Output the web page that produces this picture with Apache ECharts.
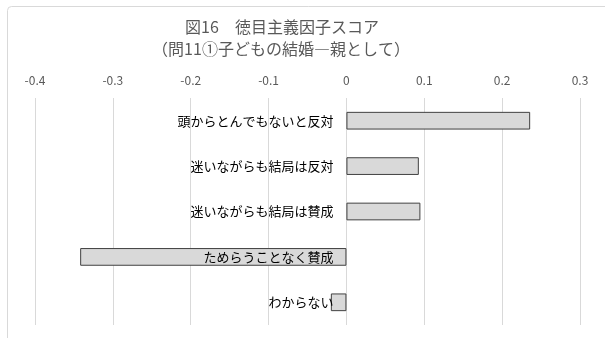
<!DOCTYPE html>
<html><head><meta charset="utf-8">
<script src="https://cdn.jsdelivr.net/npm/echarts@6/dist/echarts.min.js"></script>
<style>html,body{margin:0;padding:0;background:#fff}#c{width:605px;height:338px}</style>
</head><body><div id="c"></div>
<script>
const titleLine1 = "図16　徳目主義因子スコア";
const titleLine2 = "（問11①子どもの結婚―親として）";
const categories = ["頭からとんでもないと反対", "迷いながらも結局は反対", "迷いながらも結局は賛成", "ためらうことなく賛成", "わからない"];
const values = [0.236, 0.093, 0.095, -0.342, -0.020];
const xMin = -0.4, xMax = 0.3, xStep = 0.1;

const FONT = '"Noto Sans CJK JP", "Noto Sans", sans-serif';
const W = 605, gridLeft = 35, gridRight = 25;
const plotW = W - gridLeft - gridRight;
const zeroOffset = -plotW * (0 - xMin) / (xMax - xMin);
const chart = echarts.init(document.getElementById('c'), null, {renderer: 'canvas'});
const titleStyle = {fontFamily: FONT, fontSize: 16, fill: '#595959', textAlign: 'center', textVerticalAlign: 'middle'};
chart.setOption({
  animation: false,
  backgroundColor: '#fff',
  textStyle: {fontFamily: FONT},
  graphic: [
    {type: 'rect', left: 5, top: 4, shape: {width: 700, height: 400, r: 4}, style: {fill: 'none', stroke: '#d9d9d9', lineWidth: 1}, silent: true},
    {type: 'text', x: 282, y: 27, style: Object.assign({text: titleLine1}, titleStyle), silent: true},
    {type: 'text', x: 281, y: 49, style: Object.assign({text: titleLine2}, titleStyle), silent: true}
  ],
  grid: {left: gridLeft, right: gridRight, top: 98, bottom: 13, containLabel: false, outerBoundsMode: 'none'},
  xAxis: {
    type: 'value', position: 'top', min: xMin, max: xMax, interval: xStep,
    axisLine: {show: false}, axisTick: {show: false},
    splitLine: {show: true, lineStyle: {color: '#d9d9d9', width: 1}},
    axisLabel: {color: '#595959', fontSize: 12, margin: 12, fontFamily: FONT,
      formatter: v => (Math.abs(v) < 1e-9 ? '0' : String(Math.round(v * 10) / 10))}
  },
  yAxis: {
    type: 'category', data: categories, inverse: true, z: 10,
    position: 'left', offset: zeroOffset,
    axisLine: {show: false, onZero: false}, axisTick: {show: false},
    splitLine: {show: false},
    axisLabel: {color: '#000', fontSize: 13, margin: 13, fontFamily: FONT}
  },
  series: [{
    type: 'bar', data: values, barWidth: '39%',
    itemStyle: {color: '#d9d9d9', borderColor: '#404040', borderWidth: 1}
  }]
});
</script></body></html>
